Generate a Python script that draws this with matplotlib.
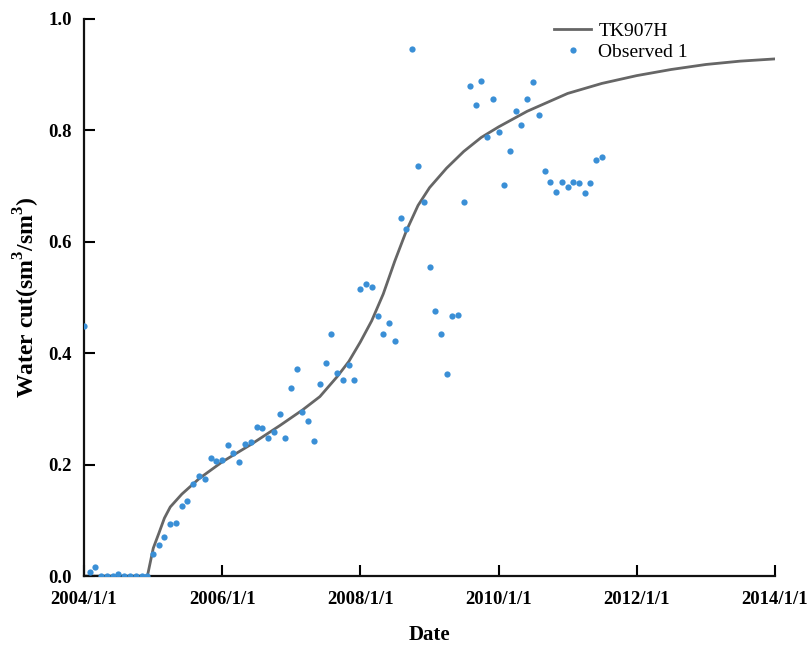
import numpy as np
import pandas as pd
import matplotlib
matplotlib.use('Agg')
import matplotlib.pyplot as plt
import matplotlib.dates as mdates

plt.rcParams['font.family'] = 'Liberation Serif'
plt.rcParams['mathtext.fontset'] = 'custom'
plt.rcParams['mathtext.bf'] = 'Liberation Serif:bold'
plt.rcParams['mathtext.rm'] = 'Liberation Serif'

# observed water cut, monthly from 2004/1
obs_start = '2004-01-01'
obs_vals = [0.449, 0.007, 0.016, 0.0, 0.0, 0.0, 0.004, 0.0, 0.0, 0.0, 0.0, 0.0,
            0.040, 0.056, 0.071, 0.093, 0.096, 0.126, 0.135, 0.165, 0.180, 0.174, 0.211, 0.206,
            0.208, 0.236, 0.221, 0.205, 0.237, 0.241, 0.268, 0.265, 0.248, 0.258, 0.290, 0.248,
            0.337, 0.372, 0.295, 0.279, 0.243, 0.345, 0.383, 0.435, 0.364, 0.351, 0.378, 0.351,
            0.515, 0.525, 0.518, 0.467, 0.435, 0.454, 0.422, 0.643, 0.622, 0.946, 0.736, 0.671,
            0.555, 0.475, 0.435, 0.362, 0.467, 0.469, 0.672, 0.879, 0.846, 0.889, 0.788, 0.856,
            0.796, 0.702, 0.762, 0.834, 0.810, 0.856, 0.887, 0.828, 0.726, 0.707, 0.689, 0.707,
            0.699, 0.707, 0.706, 0.688, 0.705, 0.746, 0.752]
obs_dates = pd.date_range(obs_start, periods=len(obs_vals), freq='MS')

# simulated curve TK907H
sim_dates = pd.to_datetime([
    '2004-01-01', '2004-12-01', '2005-01-01', '2005-02-01', '2005-03-01', '2005-04-01',
    '2005-06-01', '2005-09-01', '2006-01-01', '2006-06-01', '2006-11-01', '2007-03-01',
    '2007-06-01', '2007-09-01', '2007-11-01', '2008-01-01', '2008-03-01', '2008-05-01',
    '2008-07-01', '2008-09-01', '2008-11-01', '2009-01-01', '2009-04-01', '2009-07-01',
    '2009-10-01', '2010-01-01', '2010-06-01', '2011-01-01', '2011-07-01', '2012-01-01',
    '2012-07-01', '2013-01-01', '2013-07-01', '2014-01-01'])
sim_vals = [0.0, 0.0, 0.05, 0.078, 0.104, 0.124,
            0.147, 0.175, 0.205, 0.236, 0.270, 0.298,
            0.322, 0.358, 0.385, 0.420, 0.458, 0.506,
            0.565, 0.620, 0.665, 0.697, 0.732, 0.762,
            0.787, 0.806, 0.834, 0.866, 0.884, 0.898,
            0.909, 0.918, 0.924, 0.928]

xtick_dates = pd.to_datetime(['2004-01-01', '2006-01-01', '2008-01-01',
                              '2010-01-01', '2012-01-01', '2014-01-01'])
xtick_labels = ['2004/1/1', '2006/1/1', '2008/1/1', '2010/1/1', '2012/1/1', '2014/1/1']
ytick_vals = [0.0, 0.2, 0.4, 0.6, 0.8, 1.0]

fig = plt.figure(figsize=(8.08, 6.48), dpi=100)
ax = fig.add_axes([0.104, 0.111, 0.855, 0.86])

ax.plot(sim_dates, sim_vals, '-', color='#666666', lw=2.0, label='TK907H', zorder=2)
ax.plot(obs_dates, obs_vals, 'o', color='#3a8fd6', ms=4.5, mec='none', label='Observed 1', zorder=3)

ax.set_xlim(pd.Timestamp('2004-01-01'), pd.Timestamp('2014-01-01'))
ax.set_ylim(0, 1.0)
ax.set_xticks(xtick_dates)
ax.set_xticklabels(xtick_labels)
ax.set_yticks(ytick_vals)
ax.set_yticklabels(['%.1f' % v for v in ytick_vals])

for s in ['top', 'right']:
    ax.spines[s].set_visible(False)
for s in ['left', 'bottom']:
    ax.spines[s].set_linewidth(1.6)
    ax.spines[s].set_color('#111111')

ax.tick_params(axis='both', direction='in', length=8, width=1.5, labelsize=13.5)
ax.tick_params(axis='x', pad=11)
ax.tick_params(axis='y', pad=9)
for lab in ax.get_xticklabels() + ax.get_yticklabels():
    lab.set_fontweight('bold')

ax.set_xlabel('Date', fontsize=15, fontweight='bold', labelpad=12)
ax.set_ylabel(r'Water cut(sm$^{\mathbf{3}}$/sm$^{\mathbf{3}}$)', fontsize=17, fontweight='bold', labelpad=4)

ax.legend(loc='upper right', bbox_to_anchor=(0.891, 1.015), frameon=False, fontsize=14,
          handlelength=1.95, handletextpad=0.35, labelspacing=0.2, borderaxespad=0.2)

fig.savefig('out.png', dpi=100)
